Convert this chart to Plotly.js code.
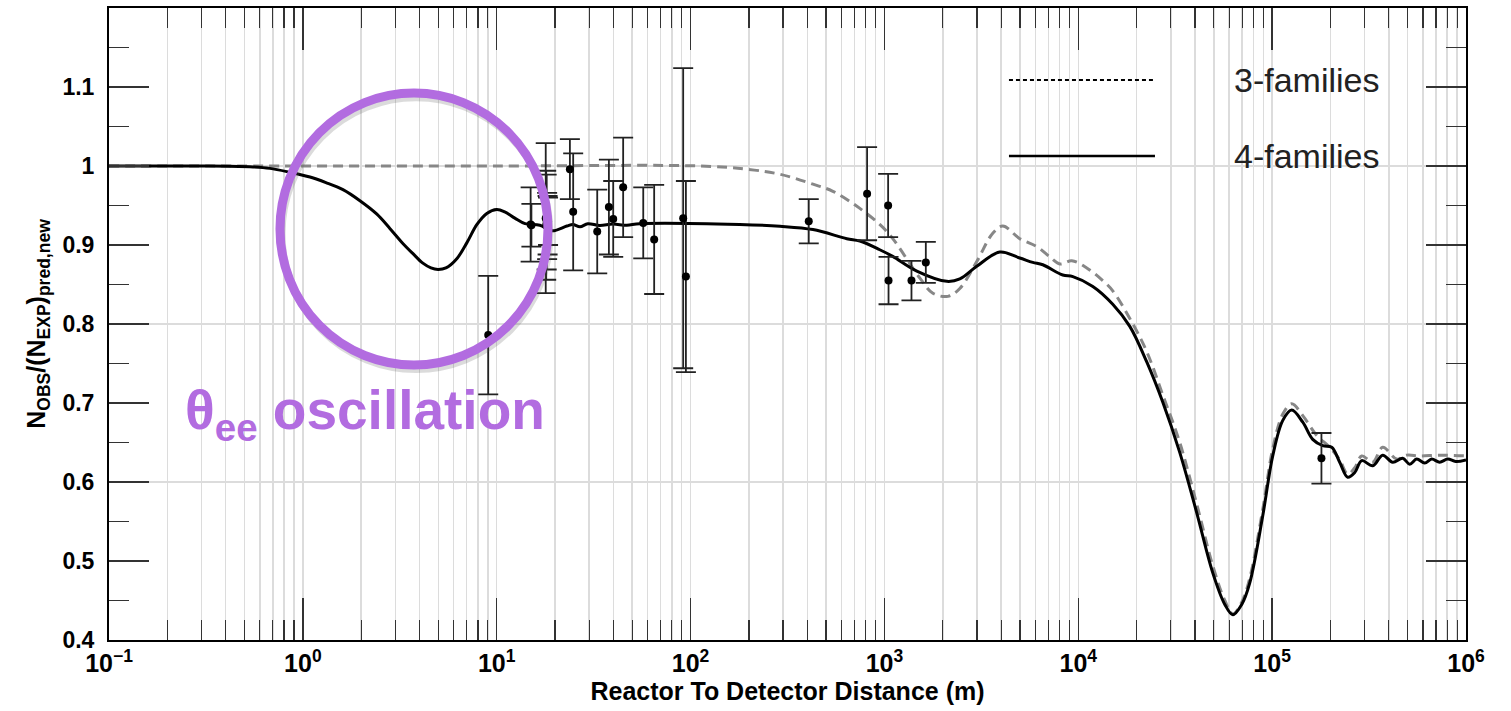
<!DOCTYPE html>
<html>
<head>
<meta charset="utf-8">
<script src="https://cdn.plot.ly/plotly-3.0.1.min.js"></script>
<style>html,body{margin:0;padding:0;background:#fff;}#chart{width:1511px;height:711px;}</style>
</head>
<body>
<div id="chart"></div>
<script>
// ---- 4-families (solid) curve, distance in m ----
const fourX = [0.1, 0.294, 0.533, 0.676, 0.858, 1.088, 1.315, 1.61, 1.97, 2.41, 2.81, 3.28, 3.70, 4.16, 4.58, 4.98, 5.47, 6.24, 7.02, 7.91, 8.89, 10.0, 11.0, 12.4, 14.0, 16.7, 19.3, 23.0, 24.7, 26.9, 29.5, 34.0, 39.7, 46.9, 54.7, 179, 289, 428, 640, 747, 946, 1104, 1469, 2098, 2449, 2995, 3936, 4990, 5823, 6561, 8318, 9376, 11885, 15060, 18440, 22550, 27290, 33370, 40830, 49400, 57000, 62700, 69700, 76600, 89400, 100700, 113500, 126200, 143900, 161900, 182300, 202900, 223100, 245400, 266700, 289800, 330300, 371700, 418800, 471400, 512500, 556900, 612300, 665300, 731300, 805100, 884400, 1000000];
const fourY = [1.000, 1.000, 0.999, 0.997, 0.992, 0.986, 0.979, 0.970, 0.956, 0.939, 0.921, 0.902, 0.889, 0.877, 0.871, 0.869, 0.871, 0.883, 0.903, 0.926, 0.940, 0.945, 0.942, 0.934, 0.927, 0.925, 0.918, 0.924, 0.926, 0.923, 0.927, 0.9246, 0.9265, 0.925, 0.927, 0.926, 0.9237, 0.9195, 0.908, 0.905, 0.894, 0.8856, 0.867, 0.854, 0.857, 0.873, 0.891, 0.8835, 0.878, 0.875, 0.862, 0.860, 0.8475, 0.825, 0.797, 0.752, 0.701, 0.6375, 0.561, 0.485, 0.445, 0.432, 0.445, 0.472, 0.557, 0.633, 0.678, 0.691, 0.6757, 0.654, 0.646, 0.644, 0.625, 0.606, 0.612, 0.627, 0.6205, 0.634, 0.625, 0.630, 0.6226, 0.629, 0.624, 0.629, 0.625, 0.629, 0.626, 0.628];

// ---- 3-families (dashed) curve ----
const threeX = [0.1, 1, 10, 111.7, 195, 289, 428, 542, 721, 946, 1104, 1524, 1778, 2125, 2449, 2995, 3622, 4081, 4990, 6109, 7129, 8035, 9254, 11060, 13370, 15060, 18440, 22550, 27290, 33370, 40830, 49400, 57000, 62700, 69700, 76600, 89400, 100700, 113500, 126200, 143900, 169800, 198200, 223100, 245400, 266700, 289800, 330300, 371700, 439000, 494300, 577000, 731300, 1000000];
const threeY = [1.000, 1.000, 1.000, 1.000, 0.996, 0.9895, 0.977, 0.968, 0.949, 0.926, 0.908, 0.858, 0.839, 0.835, 0.845, 0.879, 0.915, 0.924, 0.908, 0.898, 0.885, 0.876, 0.880, 0.871, 0.855, 0.842, 0.807, 0.765, 0.710, 0.650, 0.572, 0.494, 0.450, 0.433, 0.448, 0.478, 0.565, 0.642, 0.686, 0.699, 0.684, 0.659, 0.644, 0.628, 0.610, 0.618, 0.633, 0.625, 0.644, 0.629, 0.634, 0.633, 0.634, 0.633];

// ---- measured data points ----
const ptX = [9.04, 14.96, 15.1, 17.9, 18.0, 18.1, 18.2, 18.3, 18.4, 23.85, 24.8, 33.0, 37.9, 39.9, 44.9, 57.0, 64.9, 91.6, 94.6, 407, 814, 1045, 1050, 1379, 1635, 179600];
const ptY = [0.786, 0.926, 0.925, 0.934, 0.925, 0.929, 0.924, 0.925, 0.930, 0.996, 0.942, 0.917, 0.948, 0.933, 0.973, 0.928, 0.907, 0.934, 0.860, 0.930, 0.965, 0.950, 0.855, 0.855, 0.878, 0.630];
const ptErr = [0.075, 0.047, 0.027, 0.095, 0.069, 0.060, 0.042, 0.037, 0.030, 0.038, 0.074, 0.053, 0.060, 0.048, 0.063, 0.045, 0.069, 0.190, 0.121, 0.028, 0.059, 0.040, 0.030, 0.025, 0.026, 0.032];

// ---- axis labels ----
const xTickVals = [0.1, 1, 10, 100, 1000, 10000, 100000, 1000000];
const xTickText = ['10<sup>−1</sup>', '10<sup>0</sup>', '10<sup>1</sup>', '10<sup>2</sup>', '10<sup>3</sup>', '10<sup>4</sup>', '10<sup>5</sup>', '10<sup>6</sup>'];
const yTickVals = [0.4, 0.5, 0.6, 0.7, 0.8, 0.9, 1.0, 1.1];
const yTickText = ['0.4', '0.5', '0.6', '0.7', '0.8', '0.9', '1', '1.1'];
const seriesNames = ['3-families', '4-families'];
const noteText = 'θ<sub>ee</sub> oscillation';

const purple = '#b26ce0';
const gridC = '#dcdcdc';
const boldFont = 'Liberation Sans, Arial, sans-serif';

const traces = [
  {x: threeX, y: threeY, type: 'scatter', mode: 'lines', name: seriesNames[0], yaxis: 'y',
   line: {color: '#878787', width: 3, dash: '10px,6px', shape: 'spline', smoothing: 1.0}, hoverinfo: 'skip'},
  {x: fourX, y: fourY, type: 'scatter', mode: 'lines', name: seriesNames[1], yaxis: 'y2',
   line: {color: '#000', width: 3, shape: 'spline', smoothing: 1.0}, hoverinfo: 'skip'},
  {x: ptX, y: ptY, type: 'scatter', mode: 'markers', yaxis: 'y2',
   marker: {color: '#000', size: 8},
   error_y: {type: 'data', array: ptErr, visible: true, color: '#222', thickness: 1.8, width: 10}}
];

const layout = {
  width: 1511, height: 711,
  margin: {l: 109, r: 45, t: 8, b: 71},
  paper_bgcolor: '#fff', plot_bgcolor: '#fff',
  showlegend: false,
  xaxis: {
    type: 'log', range: [-1, 6],
    tickmode: 'array', tickvals: xTickVals, ticktext: xTickText,
    ticks: 'inside', ticklen: 42, tickwidth: 1.5, tickcolor: '#333',
    showline: true, linecolor: '#000', linewidth: 2, mirror: 'ticks',
    showgrid: true, gridcolor: gridC, gridwidth: 1.5, zeroline: false,
    minor: {dtick: 'D1', ticks: 'inside', ticklen: 20, tickwidth: 1.2, tickcolor: '#333', showgrid: true, gridcolor: gridC, gridwidth: 1.5},
    tickfont: {family: boldFont, size: 25, color: '#000', weight: 'bold'},
    title: {text: 'Reactor To Detector Distance (m)', font: {family: boldFont, size: 25, color: '#000', weight: 'bold'}, standoff: 2}
  },
  yaxis: {
    range: [0.4, 1.2],
    tickmode: 'array', tickvals: yTickVals, ticktext: yTickText,
    ticks: 'inside', ticklen: 40, tickwidth: 1.5, tickcolor: '#333',
    showline: true, linecolor: '#000', linewidth: 2, mirror: 'ticks',
    showgrid: false, zeroline: false,
    minor: {tickmode: 'linear', tick0: 0.4, dtick: 0.05, ticks: 'inside', ticklen: 20, tickwidth: 1.2, tickcolor: '#333', showgrid: false},
    ticklabelstandoff: 8,
    tickfont: {family: boldFont, size: 23, color: '#000', weight: 'bold'},
    title: {text: 'N<sub>OBS</sub>/(N<sub>EXP</sub>)<sub>pred,new</sub>', font: {family: boldFont, size: 25, color: '#000', weight: 'bold'}, standoff: 10}
  },
  yaxis2: {
    overlaying: 'y', range: [0.4, 1.2], tickmode: 'linear', tick0: 0.4, dtick: 0.2,
    showgrid: true, gridcolor: gridC, gridwidth: 1.5, zeroline: false,
    showticklabels: false, ticks: '', showline: false
  },
  shapes: [
    {type: 'line', xref: 'paper', yref: 'paper', x0: 0.6632, x1: 0.7693, y0: 0.8861, y1: 0.8861, line: {color: '#000', width: 2, dash: '4px,3px'}},
    {type: 'line', xref: 'paper', yref: 'paper', x0: 0.6632, x1: 0.7708, y0: 0.7658, y1: 0.7658, line: {color: '#000', width: 2.5}},
    {type: 'circle', xref: 'paper', yref: 'paper', x0: 0.1275, x1: 0.3250, y0: 0.428, y1: 0.858, line: {color: 'rgba(90,90,90,0.22)', width: 7}, layer: 'above'},
    {type: 'circle', xref: 'paper', yref: 'paper', x0: 0.1260, x1: 0.3235, y0: 0.4351, y1: 0.8655, line: {color: purple, width: 9}, layer: 'above'}
  ],
  annotations: [
    {xref: 'paper', yref: 'paper', x: 0.8276, y: 0.8861, xanchor: 'left', yanchor: 'middle', showarrow: false,
     text: seriesNames[0], font: {family: 'Liberation Sans, Arial, sans-serif', size: 34, color: '#222', weight: 300}},
    {xref: 'paper', yref: 'paper', x: 0.8276, y: 0.7658, xanchor: 'left', yanchor: 'middle', showarrow: false,
     text: seriesNames[1], font: {family: 'Liberation Sans, Arial, sans-serif', size: 34, color: '#222', weight: 300}},
    {xref: 'paper', yref: 'paper', x: 0.0545, y: 0.358, xanchor: 'left', yanchor: 'middle', showarrow: false,
     text: noteText, font: {family: boldFont, size: 55, color: purple, weight: 'bold'}}
  ]
};

Plotly.newPlot('chart', traces, layout, {displayModeBar: false, staticPlot: true});
</script>
</body>
</html>
